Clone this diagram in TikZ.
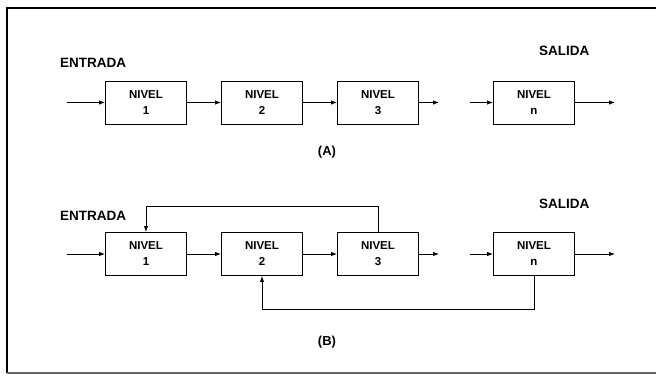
\documentclass[tikz,border=0pt]{standalone}
\usepackage{fontspec}
\setmainfont{Liberation Sans}
\usetikzlibrary{arrows.meta}
\begin{document}
\begin{tikzpicture}[x=1pt,y=-1pt,
  nivel/.style={draw, line width=0.9pt, minimum width=81pt, minimum height=43pt, inner sep=0pt, align=center, font=\bfseries\fontsize{11.5}{16}\selectfont},
  lbl/.style={font=\bfseries\fontsize{13.5}{15}\selectfont, inner sep=0pt},
  subcap/.style={font=\bfseries\fontsize{13}{15}\selectfont, inner sep=0pt},
  conn/.style={line width=0.9pt, -{Latex[length=6pt,width=4.5pt]}}]
\useasboundingbox (0,0) rectangle (656,382);
% frame
\draw[line width=2pt] (7,373) -- (7,8) -- (656,8);
\draw[line width=1.2pt, black!60] (7,373) -- (656,373);
% ---------- (A)
\node[lbl, anchor=west] (entA) at (60,63) {ENTRADA};
\node[lbl, anchor=west] (salA) at (539,51) {SALIDA};
\node[nivel] (a1) at (146,102.5) {NIVEL\\1};
\node[nivel] (a2) at (262,102.5) {NIVEL\\2};
\node[nivel] (a3) at (378,102.5) {NIVEL\\3};
\node[nivel] (an) at (534,102.5) {NIVEL\\n};
\coordinate (ainS) at (67,102.5);
\coordinate (a3out) at (439,102.5);
\coordinate (aninS) at (470,102.5);
\coordinate (anout) at (615,102.5);
\draw[conn] (ainS) -- (a1);
\draw[conn] (a1) -- (a2);
\draw[conn] (a2) -- (a3);
\draw[conn] (a3) -- (a3out);
\draw[conn] (aninS) -- (an);
\draw[conn] (an) -- (anout);
\node[subcap] (capA) at (327,152) {(A)};
% ---------- (B)
\node[lbl, anchor=west] (entB) at (60,216) {ENTRADA};
\node[lbl, anchor=west] (salB) at (539,204) {SALIDA};
\node[nivel] (b1) at (146,254) {NIVEL\\1};
\node[nivel] (b2) at (262,254) {NIVEL\\2};
\node[nivel] (b3) at (378,254) {NIVEL\\3};
\node[nivel] (bn) at (534,254) {NIVEL\\n};
\coordinate (binS) at (67,254);
\coordinate (b3out) at (439,254);
\coordinate (bninS) at (470,254);
\coordinate (bnout) at (615,254);
\draw[conn] (binS) -- (b1);
\draw[conn] (b1) -- (b2);
\draw[conn] (b2) -- (b3);
\draw[conn] (b3) -- (b3out);
\draw[conn] (bninS) -- (bn);
\draw[conn] (bn) -- (bnout);
% feedback loops
\coordinate (fbtop) at (146,206);
\coordinate (fbbot) at (262,309);
\draw[conn] (b3.north) |- (fbtop) -- (b1.north);
\draw[conn] (bn.south) |- (fbbot) -- (b2.south);
\node[subcap] (capB) at (327,342) {(B)};
\end{tikzpicture}
\end{document}
